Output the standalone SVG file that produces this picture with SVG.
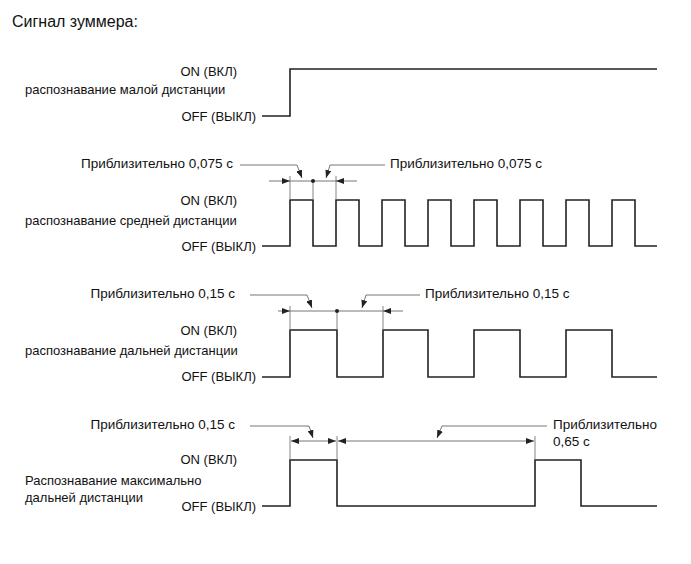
<svg xmlns="http://www.w3.org/2000/svg" width="691" height="564" viewBox="0 0 691 564">
<style>
text{font-family:"Liberation Sans",Arial,sans-serif;font-size:13px;fill:#111}
.title{font-size:16px}
.ap{font-size:13.5px}
.e{text-anchor:end}
.wave{fill:none;stroke:#222;stroke-width:1.6}
.dim{fill:none;stroke:#666;stroke-width:0.9}
.ext{fill:none;stroke:#777;stroke-width:0.9}
.dot{fill:#222}
</style>
<defs>
<marker id="ah" viewBox="0 0 8 6" refX="8" refY="3" markerWidth="8" markerHeight="6" markerUnits="userSpaceOnUse" orient="auto-start-reverse">
<path d="M0,0 L8,3 L0,6 z" fill="#222"/>
</marker>
</defs>
<text class="title" x="12" y="27">Сигнал зуммера:</text>

<g id="row1">
<text class="e" x="237" y="76">ON (ВКЛ)</text>
<text x="25" y="94">распознавание малой дистанции</text>
<text class="e" x="256" y="121">OFF (ВЫКЛ)</text>
<path class="wave" d="M262,116 H290 V69 H657"/>
</g>

<g id="row2">
<text class="e ap" x="233" y="168">Приблизительно 0,075 с</text>
<text class="ap" x="390" y="168">Приблизительно 0,075 с</text>
<text class="e" x="237" y="205">ON (ВКЛ)</text>
<text x="25" y="225">распознавание средней дистанции</text>
<text class="e" x="256" y="251">OFF (ВЫКЛ)</text>
<path class="wave" d="M262,246 H290 V200 H313 V246 H336 V200 H359 V246 H382 V200 H405 V246 H428 V200 H451 V246 H474 V200 H497 V246 H520 V200 H543 V246 H566 V200 H589 V246 H612 V200 H635 V246 H657"/>
</g>

<g id="row3">
<text class="e ap" x="235" y="298">Приблизительно 0,15 с</text>
<text class="ap" x="425" y="298">Приблизительно 0,15 с</text>
<text class="e" x="237" y="335">ON (ВКЛ)</text>
<text x="25" y="355">распознавание дальней дистанции</text>
<text class="e" x="256" y="381">OFF (ВЫКЛ)</text>
<path class="wave" d="M262,377 H290 V330 H337 V377 H383 V330 H428 V377 H474 V330 H520 V377 H566 V330 H612 V377 H657"/>
</g>

<g id="row4">
<text class="e ap" x="235" y="429">Приблизительно 0,15 с</text>
<text class="ap" x="553" y="429">Приблизительно</text>
<text class="ap" x="553" y="446">0,65 с</text>
<text class="e" x="237" y="464">ON (ВКЛ)</text>
<text x="25" y="485">Распознавание максимально</text>
<text x="25" y="502">дальней дистанции</text>
<text class="e" x="256" y="511">OFF (ВЫКЛ)</text>
<path class="wave" d="M262,506 H290 V460 H337 V506 H535 V460 H581 V506 H657"/>
</g>

<g id="connectors">
<path class="ext" d="M290,176 V200 M313,181 V200 M336,176 V200"/>
<path class="dim" d="M290,181 H336"/>
<path class="dim" d="M269,181 H290" marker-end="url(#ah)"/>
<path class="dim" d="M357,181 H336" marker-end="url(#ah)"/>
<circle class="dot" cx="313" cy="181" r="2"/>
<path class="dim" d="M240,165 H297 L302,178" marker-end="url(#ah)"/>
<path class="dim" d="M385,165 H330 L326,178" marker-end="url(#ah)"/>
<path class="ext" d="M290,306 V330 M337,311 V330 M383,306 V330"/>
<path class="dim" d="M290,311 H383"/>
<path class="dim" d="M278,311 H290" marker-end="url(#ah)"/>
<path class="dim" d="M403,311 H383" marker-end="url(#ah)"/>
<circle class="dot" cx="337" cy="311" r="2"/>
<path class="dim" d="M250,295 H307 L312,308" marker-end="url(#ah)"/>
<path class="dim" d="M420,295 H366 L362,308" marker-end="url(#ah)"/>
<path class="ext" d="M290,436 V460 M337,436 V460 M535,436 V460"/>
<path class="dim" d="M291,441 H336" marker-start="url(#ah)" marker-end="url(#ah)"/>
<path class="dim" d="M338,441 H534" marker-start="url(#ah)" marker-end="url(#ah)"/>
<path class="dim" d="M250,426 H309 L313,438" marker-end="url(#ah)"/>
<path class="dim" d="M547,426 H442 L437,438" marker-end="url(#ah)"/>
</g>
</svg>
